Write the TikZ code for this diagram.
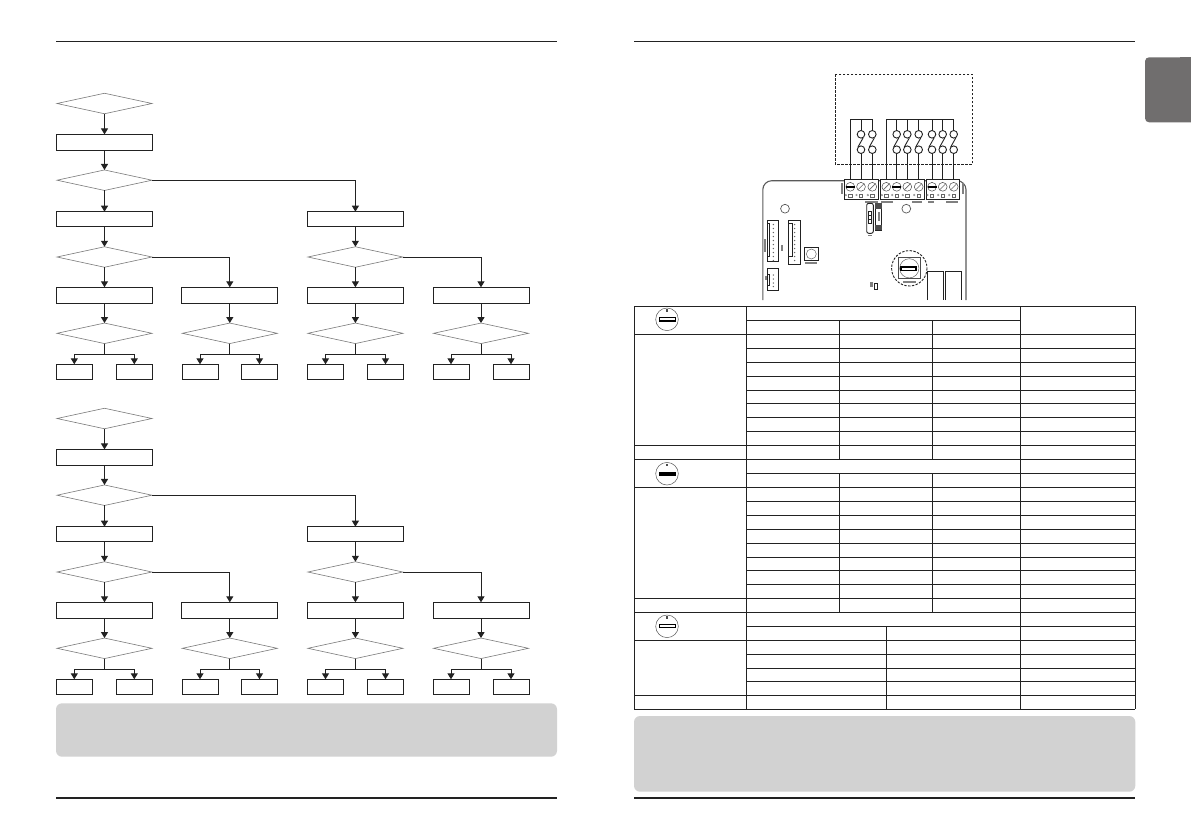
\documentclass[tikz,border=0pt]{standalone}
\usetikzlibrary{shapes.geometric,arrows.meta}
\definecolor{ink}{HTML}{222222}
\definecolor{dia}{HTML}{7A7A7A}
\definecolor{pale}{HTML}{D2D2D2}
\definecolor{tab}{HTML}{706E6E}
\definecolor{pcb}{HTML}{5A5A5A}
\tikzset{
  every node/.style={inner sep=0pt,outer sep=0pt},
  flowbox/.style={draw=ink,line width=0.9pt,fill=white,minimum height=16pt},
  widebox/.style={flowbox,minimum width=96pt},
  tinybox/.style={flowbox,minimum width=36pt,minimum height=15pt},
  flowdia/.style={diamond,draw=dia,line width=0.6pt,fill=white,minimum width=95pt,minimum height=20.5pt},
  link/.style={draw=ink,line width=1pt},
  arr/.style={link,-{Triangle[length=6pt,width=7pt]}},
  grid/.style={draw=ink,line width=0.85pt},
  board/.style={draw=ink,line width=0.8pt},
  screw/.style={draw=black!70,line width=0.5pt,fill=white},
}
\begin{document}
\begin{tikzpicture}[x=1pt,y=-1pt]
\useasboundingbox (0,0) rectangle (1191,839);
\fill[white] (0,0) rectangle (1191,839);
% page rules
\draw[ink,line width=1pt] (56,41.3) -- (557,41.3);
\draw[ink,line width=1pt] (634,41.3) -- (1135,41.3);
\draw[ink,line width=2pt] (56,798) -- (557,798);
\draw[ink,line width=2pt] (634,798) -- (1135,798);
% tab
\fill[tab,rounded corners=4pt] (1191,57.3) -- (1145,57.3) -- (1145,122.3) -- (1191,122.3);
\fill[tab] (1180,57.3) rectangle (1191,122.3);
% note panels
\fill[pale,rounded corners=6pt] (56,703.3) rectangle (557,756.7);
\fill[pale,rounded corners=6pt] (634,716) rectangle (1135.3,791.7);
% flow charts
\foreach \o/\p in {0/a,315/b}{
  \node[flowdia] (\p d1) at (104.5,103.5+\o) {};
  \node[widebox] (\p r1) at (104.5,142.4+\o) {};
  \node[flowdia] (\p d2) at (104.5,180.2+\o) {};
  \node[widebox,minimum height=14.6pt] (\p r2l) at (104.5,219+\o) {};
  \node[widebox,minimum height=14.6pt] (\p r2r) at (355.4,219+\o) {};
  \node[flowdia] (\p d3l) at (104.5,257+\o) {};
  \node[flowdia] (\p d3r) at (355.4,257+\o) {};
  \foreach \c/\cx/\l/\r in {1/104.5/74.3/134.3,2/229.8/200/259.5,3/355.4/325.5/385.5,4/481/451/511}{
    \node[widebox] (\p r3\c) at (\cx,295.3+\o) {};
    \node[flowdia] (\p d4\c) at (\cx,333.3+\o) {};
    \node[tinybox] (\p sl\c) at (\l,371.8+\o) {};
    \node[tinybox] (\p sr\c) at (\r,371.8+\o) {};
    \draw[arr] (\p r3\c) -- (\p d4\c);
    \draw[arr] (\p d4\c.south) -- ++(0,11) -| (\p sl\c.north);
    \draw[arr] (\p d4\c.south) -- ++(0,11) -| (\p sr\c.north);
  }
  \draw[arr] (\p d1) -- (\p r1);
  \draw[arr] (\p r1) -- (\p d2);
  \draw[arr] (\p d2) -- (\p r2l);
  \draw[arr] (\p d2.east) -| (\p r2r.north);
  \draw[arr] (\p r2l) -- (\p d3l);
  \draw[arr] (\p r2r) -- (\p d3r);
  \draw[arr] (\p d3l) -- (\p r31);
  \draw[arr] (\p d3l.east) -| (\p r32.north);
  \draw[arr] (\p d3r) -- (\p r33);
  \draw[arr] (\p d3r.east) -| (\p r34.north);
}
% ---------- table
\foreach \y in {306.3,334.3,445.3,459.3,487.3,598.3,612.3,640.3,695.3,709.3}
  \draw[grid] (634.3,\y) -- (1135.3,\y);
\foreach \y in {348.3,362.3,376.3,390.3,403.7,417.3,431.3,473.3,501.3,515.3,529.3,543.3,557.3,570.5,584.3,626.3,654.3,668.3,681.3}
  \draw[grid] (746.3,\y) -- (1135.3,\y);
\draw[grid] (746.3,320.7) -- (1020.3,320.7);
\foreach \x in {634.3,746.3,1020.3,1135.3}
  \draw[grid] (\x,306.3) -- (\x,709.3);
\foreach \x in {839.3,932.3}{
  \draw[grid] (\x,320.7) -- (\x,459.3);
  \draw[grid] (\x,473.3) -- (\x,612.3);
}
\draw[grid] (886.7,626.3) -- (886.7,709.3);
% dials
\foreach \cy/\fc/\lw in {319.3/white/1.5,473.7/black/1.2,626.3/white/1}{
  \draw[black!65,line width=0.5pt] (667,\cy) circle (11.3);
  \draw[black,line width=\lw pt,fill=\fc] (659.5,\cy-1.6) rectangle (675.5,\cy+1.6);
  \fill[black!70] (666.3,\cy-10) rectangle (667.7,\cy-7.5);
}
% ---------- wiring box
\draw[ink,line width=0.8pt,dash pattern=on 2.2pt off 1.8pt] (835.3,74.3) rectangle (972.3,164.3);
\draw[ink,line width=1pt] (850.3,119.3) -- (872.3,119.3);
\draw[ink,line width=1pt] (886.3,119.3) -- (953.7,119.3);
\foreach \x in {850.3,886.3}
  \draw[ink,line width=1pt] (\x,119.3) -- (\x,180);
\foreach \x in {861,872.3,896.7,907.3,918.7,932,942.7,953.7}{
  \draw[ink,line width=1pt] (\x,119.3) -- (\x,180);
  \fill[white] (\x-1,136) rectangle (\x+1,148);
  \draw[ink,line width=0.9pt,fill=white] (\x,134.3) circle (3.8);
  \draw[ink,line width=0.9pt,fill=white] (\x,149.7) circle (3.8);
  \draw[ink,line width=0.9pt] (\x-3,147) -- (\x+2,138);
}
% ---------- board
\draw[pcb,line width=1.1pt,rounded corners=9pt] (762.8,300) -- (762.8,180.7) -- (966,180.7) -- (966,300);
\draw[pcb,line width=0.7pt] (785,208.7) circle (4.4);
\draw[pcb,line width=0.7pt] (906.3,208.7) circle (4.4);
% terminal blocks
\foreach \xa/\xb in {844.3/878.8,880.3/924,926/959.3}
  \draw[ink,line width=0.9pt,fill=white] (\xa,179) rectangle (\xb,199.3);
\foreach \x in {850.3,861,872.3,886.3,896.7,907.3,918.7,932,942.7,953.7}{
  \draw[screw] (\x,186.8) circle (4.4);
  \draw[black!60,line width=0.45pt] (\x-1.7,194) rectangle (\x+1.7,197);
  \draw[black!50,line width=0.4pt] (\x-4.5,195) circle (0.9);
}
\foreach \x in {861,872.3,886.3,907.3,918.7,942.7,953.7}
  \draw[black!60,line width=0.6pt] (\x-3,189.8) -- (\x+3,183.8);
\foreach \x in {850.3,896.7,932}
  \fill[black] (\x-4.5,185.6) rectangle (\x+4.5,188);
% tiny print marks
\foreach \xa/\ya/\xb/\yb in {865/200.5/878/202.5,881/200.5/893/202.5,912/200.5/922/202.5,928/200.5/934/202.5,946/200.5/958/202.5,840.5/183/842.5/194,962/183/964/194,781/245/783/251,764/239/766/252,765/276/767/280,805/262/817/263.5,903/280.5/916/282.5,868/234.5/872/236,869.5/282/872.5/286.5}
  \fill[black!50] (\xa,\ya) rectangle (\xb,\yb);
% connectors
\foreach \xa/\xb/\ya/\yb/\xn/\xd in {767.3/778.7/220.3/261/769.3/773.3,788.3/800.7/220.3/264.7/792/794.7}{
  \draw[board] (\xa,\ya) rectangle (\xb,\yb);
  \draw[ink,line width=0.8pt] (\xa,223.5) -- (\xn,223.5) -- (\xn,256.5) -- (\xa,256.5);
  \foreach \k in {0,...,9}
    \fill[black!60] (\xd,224.5+\k*4) circle (0.75);
}
\draw[board] (767.3,268.3) rectangle (778.7,290.3);
\draw[ink,line width=0.8pt] (767.3,274) -- (769.8,274) -- (769.8,285) -- (767.3,285);
\foreach \y in {275,279,283,286.5}
  \fill[black!60] (773.3,\y) circle (0.75);
% button
\draw[ink,line width=1pt] (804.3,247.3) rectangle (818.3,260.7);
\draw[black!60,line width=0.5pt] (811.3,254) circle (5);
% jumper
\draw[ink,line width=0.9pt,rounded corners=2pt] (866.7,203.3) rectangle (873.3,233.3);
\draw[ink,line width=0.5pt] (868.2,211.7) rectangle (871.2,223.3);
\draw[ink,line width=0.5pt] (868.2,215.5) -- (871.2,215.5) (868.2,219.4) -- (871.2,219.4);
\draw[ink,line width=0.7pt] (875,203.3) rectangle (881.7,230);
\fill[black!70] (875,203.3) rectangle (881.7,208.5);
\fill[black!70] (875,225) rectangle (881.7,230);
\fill[black!50] (877.5,212) rectangle (879.5,221);
% small part
\draw[ink,line width=0.8pt] (874.3,283.3) rectangle (877.7,289.3);
% rotary switch
\draw[ink,line width=0.9pt,dash pattern=on 2.4pt off 1.4pt] (909.3,268.3) circle (17.7);
\draw[black!70,line width=0.6pt] (898.3,257.7) rectangle (920,278.3);
\draw[black!60,line width=0.5pt] (909.3,268.3) circle (9.6);
\draw[black,line width=1.5pt,fill=white] (900.8,267.2) rectangle (915.8,270.6);
% relays
\draw[board] (927.3,300) -- (927.3,271) -- (943.7,271) -- (943.7,300);
\draw[board] (945,300) -- (945,271) -- (961.7,271) -- (961.7,300);
\end{tikzpicture}
\end{document}
